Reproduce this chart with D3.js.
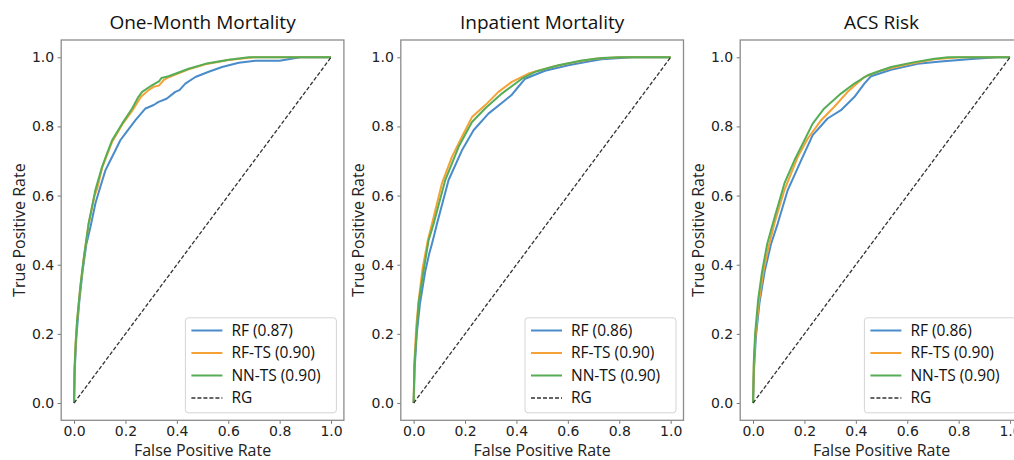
<!DOCTYPE html>
<html>
<head>
<meta charset="utf-8">
<script src="https://cdn.jsdelivr.net/npm/d3@7"></script>
<style>
  body { margin: 0; background: #fff; }
  svg { display: block; }
  .title { font-family: "Open Sans", sans-serif; font-size: 19px; fill: #111; }
  .axis-label { font-family: "Open Sans", sans-serif; font-size: 16px; fill: #222; }
  .tick text { font-family: "DejaVu Sans", sans-serif; font-size: 14px; fill: #222; }
  .legend text { font-family: "Open Sans", sans-serif; font-size: 15.5px; fill: #111; }
</style>
</head>
<body>
<svg width="1014" height="460"></svg>
<script>
var width = 1014, height = 460;

// panel titles and the legend labels (AUC in brackets)
var panelTitles = ["One-Month Mortality", "Inpatient Mortality", "ACS Risk"];
var seriesNames = ["RF", "RF-TS", "NN-TS"];
var seriesColors = ["#4a8bc9", "#f4a236", "#55ad55"];
var aucOneMonth = ["0.87", "0.90", "0.90"];
var aucInpatient = ["0.86", "0.90", "0.90"];
var aucAcs = ["0.86", "0.90", "0.90"];

var tickValues = [0, 0.2, 0.4, 0.6, 0.8, 1.0];

// ROC points [false positive rate, true positive rate]
var oneMonthRF = [[0,0],[0.003,0.1],[0.009,0.19],[0.02,0.29],[0.033,0.38],[0.048,0.46],[0.064,0.51],[0.083,0.577],[0.1,0.62],[0.122,0.673],[0.14,0.7],[0.161,0.731],[0.18,0.76],[0.2,0.78],[0.239,0.818],[0.278,0.852],[0.31,0.862],[0.329,0.871],[0.36,0.88],[0.394,0.9],[0.41,0.905],[0.433,0.924],[0.472,0.943],[0.524,0.958],[0.576,0.972],[0.641,0.984],[0.705,0.99],[0.8,0.99],[0.88,1],[1,1]];
var oneMonthRFTS = [[0,0],[0.002,0.1],[0.006,0.17],[0.012,0.24],[0.025,0.34],[0.038,0.42],[0.057,0.52],[0.08,0.6],[0.09,0.62],[0.109,0.68],[0.148,0.755],[0.187,0.805],[0.226,0.845],[0.26,0.885],[0.29,0.905],[0.31,0.915],[0.33,0.918],[0.35,0.935],[0.37,0.943],[0.446,0.965],[0.511,0.98],[0.602,0.992],[0.7,1],[1,1]];
var oneMonthNNTS = [[0,0],[0.002,0.1],[0.006,0.17],[0.012,0.24],[0.025,0.34],[0.038,0.42],[0.057,0.52],[0.083,0.616],[0.109,0.683],[0.13,0.725],[0.148,0.76],[0.187,0.808],[0.226,0.852],[0.25,0.885],[0.265,0.9],[0.303,0.919],[0.33,0.93],[0.34,0.94],[0.368,0.945],[0.446,0.967],[0.511,0.981],[0.602,0.993],[0.68,1],[1,1]];

var inpatientRF = [[0,0],[0.004,0.1],[0.012,0.2],[0.025,0.29],[0.045,0.38],[0.06,0.43],[0.071,0.46],[0.078,0.48],[0.091,0.519],[0.136,0.645],[0.188,0.731],[0.233,0.789],[0.291,0.837],[0.356,0.876],[0.38,0.89],[0.401,0.909],[0.434,0.938],[0.511,0.961],[0.602,0.977],[0.68,0.988],[0.732,0.994],[0.85,1],[1,1]];
var inpatientRFTS = [[0,0],[0.003,0.12],[0.01,0.22],[0.02,0.3],[0.035,0.39],[0.055,0.47],[0.078,0.538],[0.11,0.635],[0.149,0.712],[0.188,0.77],[0.227,0.827],[0.278,0.861],[0.33,0.9],[0.382,0.929],[0.447,0.953],[0.537,0.972],[0.628,0.986],[0.706,0.996],[0.8,1],[1,1]];
var inpatientNNTS = [[0,0],[0.003,0.11],[0.006,0.144],[0.019,0.288],[0.039,0.384],[0.058,0.47],[0.078,0.519],[0.123,0.645],[0.175,0.741],[0.227,0.813],[0.278,0.852],[0.343,0.895],[0.421,0.938],[0.473,0.958],[0.563,0.977],[0.654,0.991],[0.732,0.998],[0.8,1],[1,1]];

var acsRF = [[0,0],[0.004,0.1],[0.011,0.19],[0.025,0.29],[0.045,0.38],[0.07,0.46],[0.096,0.519],[0.135,0.616],[0.187,0.702],[0.232,0.775],[0.29,0.823],[0.342,0.847],[0.394,0.885],[0.433,0.924],[0.459,0.945],[0.537,0.964],[0.641,0.981],[0.73,0.988],[0.85,0.995],[0.95,1],[1,1]];
var acsRFTS = [[0,0],[0.003,0.11],[0.009,0.19],[0.022,0.29],[0.04,0.38],[0.06,0.45],[0.083,0.519],[0.122,0.616],[0.174,0.712],[0.213,0.765],[0.265,0.818],[0.316,0.857],[0.368,0.9],[0.433,0.943],[0.498,0.962],[0.602,0.98],[0.706,0.994],[0.8,1],[1,1]];
var acsNNTS = [[0,0],[0.003,0.12],[0.008,0.2],[0.02,0.3],[0.035,0.38],[0.055,0.46],[0.077,0.519],[0.122,0.635],[0.161,0.702],[0.2,0.76],[0.232,0.808],[0.277,0.852],[0.342,0.895],[0.394,0.924],[0.446,0.948],[0.537,0.972],[0.628,0.986],[0.706,0.996],[0.76,1],[1,1]];

var chanceLine = [[0,0],[1,1]];

var panels = [
  {title: panelTitles[0], auc: aucOneMonth, curves: [oneMonthRF, oneMonthRFTS, oneMonthNNTS]},
  {title: panelTitles[1], auc: aucInpatient, curves: [inpatientRF, inpatientRFTS, inpatientNNTS]},
  {title: panelTitles[2], auc: aucAcs, curves: [acsRF, acsRFTS, acsNNTS]}
];

var frameLefts = [61.2, 400.8, 740.2];
var frameW = 282.7, frameTop = 40, frameBottom = 420.3;

var svg = d3.select("svg");

function draw_panel(p, i) {
  var left = frameLefts[i];

  var x = d3.scaleLinear().domain([-0.05, 1.05]).range([left, left + frameW]);
  var y = d3.scaleLinear().domain([-0.05, 1.05]).range([frameBottom, frameTop]);

  var g = svg.append("g").attr("class", "panel");

  var line = d3.line()
    .x(function(d) { return x(d[0]); })
    .y(function(d) { return y(d[1]); });

  p.curves.forEach(function(c, k) {
    g.append("path")
      .attr("d", line(c))
      .attr("fill", "none")
      .attr("stroke", seriesColors[k])
      .attr("stroke-width", 2)
      .attr("stroke-linejoin", "round");
  });

  g.append("path")
    .attr("d", line(chanceLine))
    .attr("fill", "none")
    .attr("stroke", "#333")
    .attr("stroke-width", 1.3)
    .attr("stroke-dasharray", "4,2");

  // axes
  var xAxis = g.append("g")
    .attr("transform", "translate(0," + frameBottom + ")")
    .call(d3.axisBottom(x).tickValues(tickValues).tickFormat(d3.format(".1f")).tickSize(3.5).tickPadding(2.5));
  var yAxis = g.append("g")
    .attr("transform", "translate(" + left + ",0)")
    .call(d3.axisLeft(y).tickValues(tickValues).tickFormat(d3.format(".1f")).tickSize(3.5).tickPadding(3.5));
  [xAxis, yAxis].forEach(function(a) {
    a.select(".domain").remove();
    a.selectAll(".tick line").attr("stroke", "#777");
  });

  // frame
  g.append("rect")
    .attr("x", left).attr("y", frameTop)
    .attr("width", frameW).attr("height", frameBottom - frameTop)
    .attr("fill", "none")
    .attr("stroke", "#8c8c8c")
    .attr("stroke-width", 1.3);

  g.append("text")
    .attr("class", "title")
    .attr("x", left + frameW / 2)
    .attr("y", 28.5)
    .attr("text-anchor", "middle")
    .text(p.title);

  g.append("text")
    .attr("class", "axis-label")
    .attr("x", left + frameW / 2)
    .attr("y", 455.5)
    .attr("text-anchor", "middle")
    .text("False Positive Rate");

  g.append("text")
    .attr("class", "axis-label")
    .attr("transform", "translate(" + (left - 36.5) + "," + ((frameTop + frameBottom) / 2) + ") rotate(-90)")
    .attr("text-anchor", "middle")
    .text("True Positive Rate");

  // legend
  var lw = 151, lh = 95;
  var lx = left + frameW - 7.5 - lw, ly = frameBottom - 7.5 - lh;
  var leg = g.append("g").attr("class", "legend").attr("transform", "translate(" + lx + "," + ly + ")");
  leg.append("rect")
    .attr("width", lw).attr("height", lh)
    .attr("rx", 3)
    .attr("fill", "#fff").attr("fill-opacity", 0.85)
    .attr("stroke", "#d4d4d4");

  var items = seriesNames.map(function(n, k) {
    return {label: n + " (" + p.auc[k] + ")", color: seriesColors[k], dash: null};
  });
  items.push({label: "RG", color: "#333", dash: "4,2"});

  var rows = leg.selectAll(".item").data(items).enter().append("g")
    .attr("class", "item")
    .attr("transform", function(d, k) { return "translate(0," + (12.7 + k * 22.5) + ")"; });
  rows.append("line")
    .attr("x1", 6).attr("x2", 37)
    .attr("stroke", function(d) { return d.color; })
    .attr("stroke-width", function(d) { return d.dash ? 1.3 : 2; })
    .attr("stroke-dasharray", function(d) { return d.dash; });
  rows.append("text")
    .attr("x", 46)
    .attr("dy", "0.35em")
    .text(function(d) { return d.label; });
}

panels.forEach(draw_panel);
</script>
</body>
</html>
